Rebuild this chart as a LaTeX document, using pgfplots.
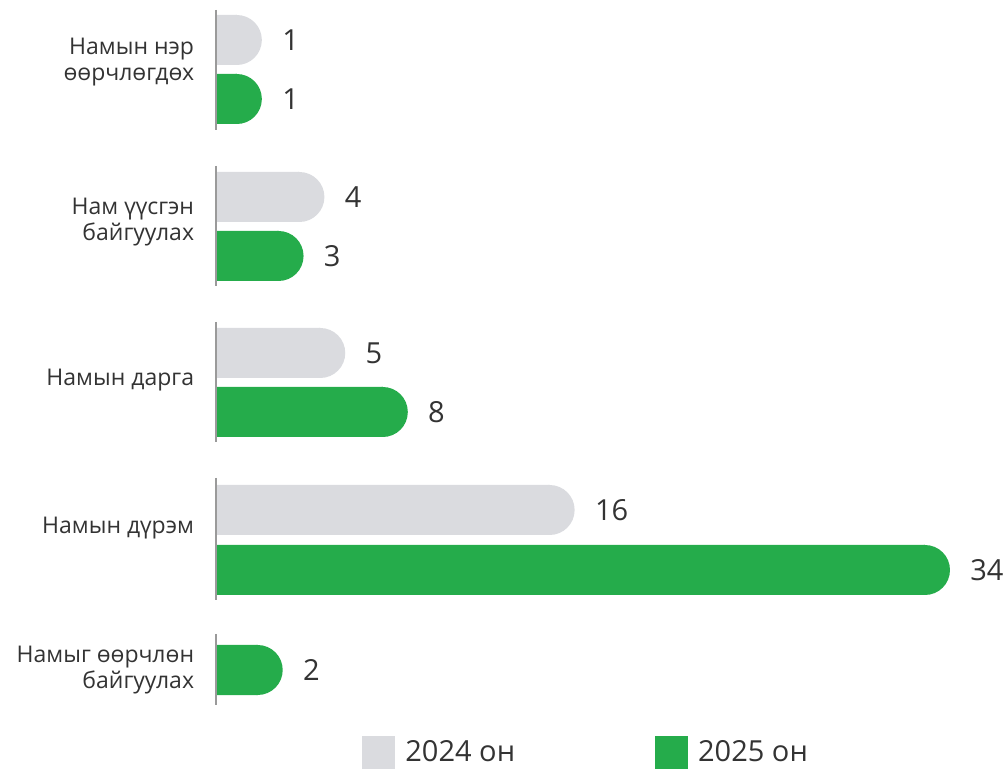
\documentclass[border=0pt]{standalone}
\usepackage{pgfplots}
\pgfplotsset{compat=1.18}
\usepackage{fontspec}
\setmainfont{Open Sans}

\definecolor{grey24}{HTML}{DADBDF}
\definecolor{green25}{HTML}{25AC4B}
\definecolor{txt}{HTML}{333333}
\definecolor{axisgrey}{HTML}{9A9A9A}

% rounded right end of a bar: half disc starting at the data point
% (overlaps the bar by 0.6pt so that no seam shows)
\pgfdeclareplotmark{cap}{%
  \pgfpathmoveto{\pgfqpoint{-0.6pt}{-\pgfplotmarksize}}%
  \pgfpathlineto{\pgfqpoint{0pt}{-\pgfplotmarksize}}%
  \pgfpatharc{-90}{90}{\pgfplotmarksize}%
  \pgfpathlineto{\pgfqpoint{-0.6pt}{\pgfplotmarksize}}%
  \pgfpathclose
  \pgfusepathqfill}

\begin{document}
\begin{tikzpicture}
\path[use as bounding box] (0,0) rectangle (503.5pt,-384.5pt);
\begin{axis}[
    at={(108pt,-352.5pt)}, anchor=south west,
    scale only axis, width=354.5pt, height=347.5pt,
    xmin=0, xmax=34, ymin=-705, ymax=-10,
    clip=false,
    xbar, bar width=25pt, bar shift=0pt,
    axis line style={draw=none}, tick style={draw=none},
    xtick=\empty,
    ytick={-62,-222,-380,-528,-670},
    yticklabels={{Намын нэр\\өөрчлөгдөх},{Нам үүсгэн\\байгуулах},{Намын дарга},{Намын дүрэм},{Намыг өөрчлөн\\байгуулах}},
    yticklabel style={align=right, font=\fontsize{11.5}{12.8}\selectfont, text=txt, inner sep=0pt, xshift=-6.5pt},
    point meta=x,
    /pgf/number format/assume math mode=true,
    nodes near coords,
    nodes near coords style={anchor=west, xshift=22.5pt, inner sep=0pt, font=\fontsize{14.5}{14.5}\selectfont, text=txt},
    legend columns=2,
    legend style={at={(0.2059,-0.0921)}, anchor=south west, draw=none, fill=none, inner sep=0pt,
      font=\fontsize{14.5}{14.5}\selectfont, text=txt, nodes={inner sep=0pt},
      /tikz/every odd column/.append style={column sep=5pt},
      /tikz/every even column/.append style={column sep=70pt}},
    ]

\addplot[fill=grey24, draw=none, mark=cap, mark size=12.5pt, mark options={fill=grey24, draw=none},
    legend image code/.code={\fill[grey24] (0pt,-7.85pt) rectangle (16.5pt,8.65pt);}]
coordinates {
(1,-40)
(4,-197)
(5,-353)
(16,-510)};

\addplot[fill=green25, draw=none, mark=cap, mark size=12.5pt, mark options={fill=green25, draw=none},
    legend image code/.code={\fill[green25] (0pt,-7.85pt) rectangle (16.5pt,8.65pt);}]
coordinates {
(1,-99)
(3,-256)
(8,-412)
(34,-570)
(2,-670)};

\draw[axisgrey, line width=0.75pt] (axis cs:0,-10) -- (axis cs:0,-130);
\draw[axisgrey, line width=0.75pt] (axis cs:0,-166) -- (axis cs:0,-286);
\draw[axisgrey, line width=0.75pt] (axis cs:0,-322) -- (axis cs:0,-442);
\draw[axisgrey, line width=0.75pt] (axis cs:0,-478) -- (axis cs:0,-600);
\draw[axisgrey, line width=0.75pt] (axis cs:0,-634) -- (axis cs:0,-705);

\legend{2024 он, 2025 он}
\end{axis}
\end{tikzpicture}
\end{document}
